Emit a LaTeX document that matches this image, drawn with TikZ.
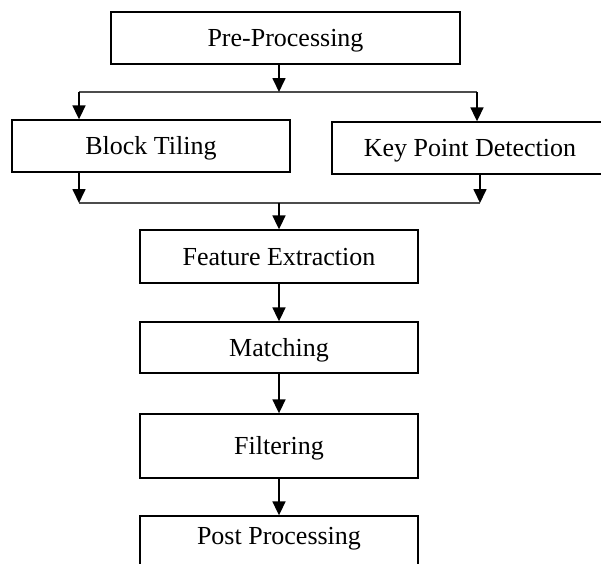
\documentclass[tikz,border=0pt]{standalone}
\usepackage{fontspec}
\setmainfont{Liberation Serif}
\usetikzlibrary{arrows.meta}
\begin{document}
\begin{tikzpicture}[x=0.75pt,y=-0.75pt,
  txt/.style={font=\fontsize{19.5}{23}\selectfont,text height=12.9pt,text depth=0pt,inner sep=0pt},
  box/.style={txt,draw=black,line width=1pt,rectangle},
  flow/.style={line width=1.3pt,-{Triangle[length=10.5pt,width=9.75pt]}},
  bus/.style={line width=0.8pt,draw=black!70}]
\useasboundingbox (0,0) rectangle (601,564);
\node[box,minimum width=261.75pt,minimum height=39pt] (pre) at (285.5,38) {Pre-Processing};
\node[box,minimum width=208.5pt,minimum height=39pt] (block) at (151,146) {Block Tiling};
\node[box,minimum width=207pt,minimum height=39pt] (kpd) at (470,148) {Key Point Detection};
\node[box,minimum width=208.5pt,minimum height=39.75pt] (feat) at (279,256.5) {Feature Extraction};
\node[box,minimum width=208.5pt,minimum height=38.25pt] (match) at (279,347.5) {Matching};
\node[box,minimum width=208.5pt,minimum height=48pt] (filt) at (279,446) {Filtering};
\node[box,minimum width=208.5pt,minimum height=42pt] (post) at (279,544) {};
\node[txt] (posttext) at (279,536) {Post Processing};
% top split
\coordinate (s1) at (279,92);
\coordinate (hl) at (79,92);
\coordinate (hr) at (477,92);
\draw[bus] (hl) -- (hr);
\draw[flow] (pre.south -| s1) -- (s1);
\draw[flow] (hl) -- (hl |- block.north);
\draw[flow] (hr) -- (hr |- kpd.north);
% bottom merge
\coordinate (ml) at (79,203);
\coordinate (mr) at (480,203);
\coordinate (m1) at (279,203);
\draw[bus] (ml) -- (mr);
\draw[flow] (ml |- block.south) -- (ml);
\draw[flow] (mr |- kpd.south) -- (mr);
\draw[flow] (m1) -- (feat.north);
\draw[flow] (feat) -- (match);
\draw[flow] (match) -- (filt);
\draw[flow] (filt) -- (post);
\end{tikzpicture}
\end{document}
